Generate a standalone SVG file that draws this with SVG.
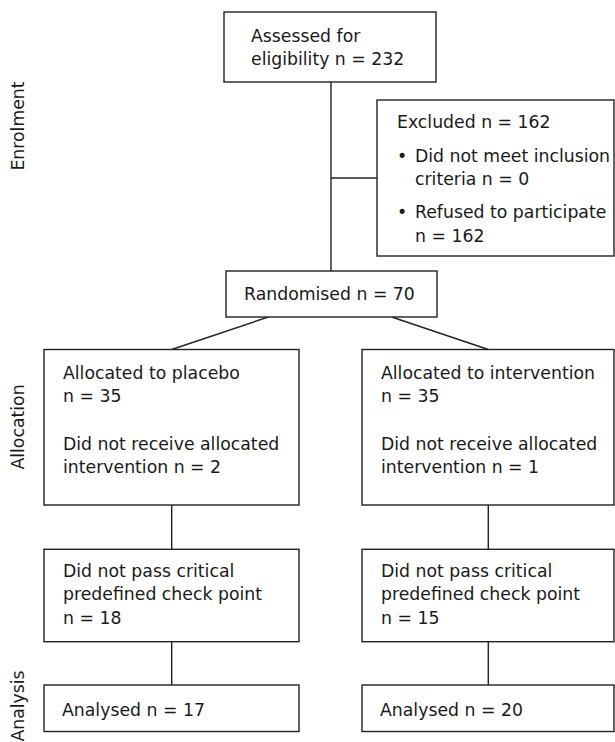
<svg xmlns="http://www.w3.org/2000/svg" width="615" height="742" viewBox="0 0 615 742">
<style>
  .box { fill: #ffffff; stroke: #222222; stroke-width: 1.4; }
  .conn { fill: none; stroke: #222222; stroke-width: 1.4; }
  text { font-family: "DejaVu Sans", "Liberation Sans", sans-serif; font-size: 17.3px; fill: #1a1a1a; }
</style>
<rect x="0" y="0" width="615" height="742" fill="#ffffff"/>
<g id="stage-labels">
  <text transform="translate(23.5,126) rotate(-90)" text-anchor="middle">Enrolment</text>
  <text transform="translate(23.5,427) rotate(-90)" text-anchor="middle">Allocation</text>
  <text transform="translate(23.5,706) rotate(-90)" text-anchor="middle">Analysis</text>
</g>
<g id="connectors">
  <line class="conn" x1="331" y1="82" x2="331" y2="271"/>
  <line class="conn" x1="331" y1="178" x2="377" y2="178"/>
  <line class="conn" x1="268.3" y1="317" x2="171.7" y2="349.5"/>
  <line class="conn" x1="391.7" y1="317" x2="488.3" y2="349.5"/>
  <line class="conn" x1="171.7" y1="505" x2="171.7" y2="549.3"/>
  <line class="conn" x1="488.3" y1="505" x2="488.3" y2="549.3"/>
  <line class="conn" x1="171.7" y1="641.7" x2="171.7" y2="685"/>
  <line class="conn" x1="488.3" y1="641.7" x2="488.3" y2="685"/>
</g>
<g id="assessed">
  <rect class="box" x="224" y="12" width="212" height="70"/>
  <text x="251" y="41.7">Assessed for</text>
  <text x="251" y="65">eligibility n = 232</text>
</g>
<g id="excluded">
  <rect class="box" x="377" y="100" width="237" height="156"/>
  <text x="397" y="128">Excluded n = 162</text>
  <text y="162"><tspan x="397">•</tspan><tspan x="415">Did not meet inclusion</tspan></text>
  <text x="415" y="185">criteria n = 0</text>
  <text y="218"><tspan x="397">•</tspan><tspan x="415">Refused to participate</tspan></text>
  <text x="415" y="242">n = 162</text>
</g>
<g id="randomised">
  <rect class="box" x="226" y="271" width="211" height="46"/>
  <text x="244" y="300">Randomised n = 70</text>
</g>
<g id="alloc-placebo">
  <rect class="box" x="44" y="349.5" width="255" height="155.5"/>
  <text x="63" y="379">Allocated to placebo</text>
  <text x="63" y="402">n = 35</text>
  <text x="63" y="450">Did not receive allocated</text>
  <text x="63" y="473">intervention n = 2</text>
</g>
<g id="alloc-intervention">
  <rect class="box" x="362" y="349.5" width="252" height="155.5"/>
  <text x="381" y="379">Allocated to intervention</text>
  <text x="381" y="402">n = 35</text>
  <text x="381" y="450">Did not receive allocated</text>
  <text x="381" y="473">intervention n = 1</text>
</g>
<g id="check-placebo">
  <rect class="box" x="44" y="549.3" width="255" height="92.4"/>
  <text x="63" y="576.7">Did not pass critical</text>
  <text x="63" y="600">predefined check point</text>
  <text x="63" y="624">n = 18</text>
</g>
<g id="check-intervention">
  <rect class="box" x="362" y="549.3" width="252" height="92.4"/>
  <text x="381" y="576.7">Did not pass critical</text>
  <text x="381" y="600">predefined check point</text>
  <text x="381" y="624">n = 15</text>
</g>
<g id="analysed-placebo">
  <rect class="box" x="44" y="685" width="255" height="46.5"/>
  <text x="62" y="716">Analysed n = 17</text>
</g>
<g id="analysed-intervention">
  <rect class="box" x="362" y="685" width="252" height="46.5"/>
  <text x="380" y="716">Analysed n = 20</text>
</g>
</svg>
